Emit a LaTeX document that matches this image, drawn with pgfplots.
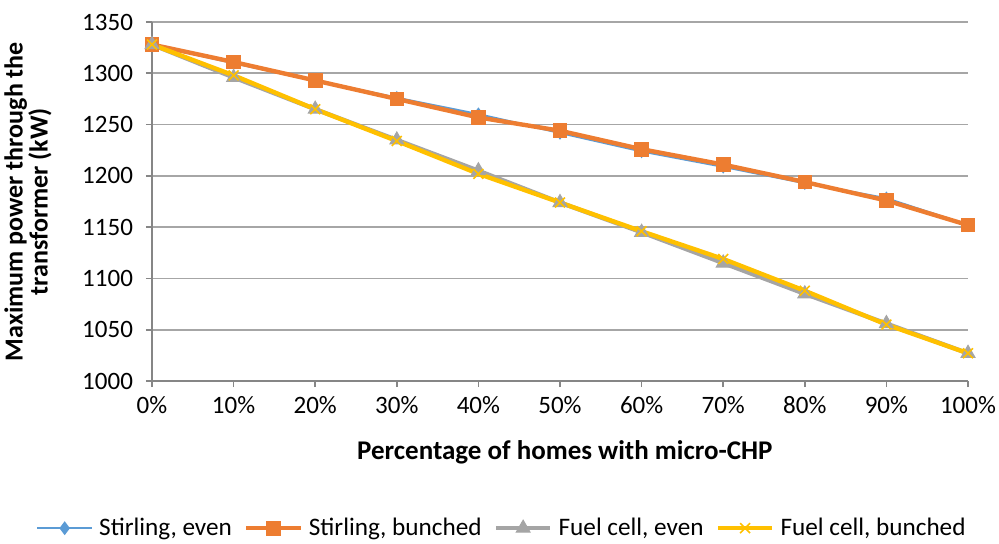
\documentclass[border=0pt]{standalone}
\usepackage{pgfplots}
\pgfplotsset{compat=1.18}
\usepackage{fontspec}
\setmainfont{Carlito}

\definecolor{cBlue}{HTML}{5B9BD5}
\definecolor{cOrange}{HTML}{ED7D31}
\definecolor{cGray}{HTML}{A5A5A5}
\definecolor{cYellow}{HTML}{FFC000}
\definecolor{gridGray}{HTML}{A6A6A6}
\definecolor{axisGray}{HTML}{868686}

\begin{document}
\begin{tikzpicture}
\useasboundingbox (-76pt,-81pt) rectangle (423.5pt,190.5pt);
\begin{axis}[
  at={(0,0)}, anchor=south west,
  width=408pt, height=179.5pt,
  scale only axis,
  xmin=0, xmax=100, ymin=1000, ymax=1350,
  xtick={0,10,...,100},
  xticklabels={0\%,10\%,20\%,30\%,40\%,50\%,60\%,70\%,80\%,90\%,100\%},
  ytick={1000,1050,...,1350},
  /pgf/number format/assume math mode=true,
  /pgf/number format/set thousands separator={},
  axis lines*=left,
  axis line style={axisGray, line width=0.8pt},
  tick style={axisGray, line width=0.8pt},
  tick align=outside,
  major tick length=3pt,
  ymajorgrids,
  grid style={gridGray, line width=0.8pt},
  tick label style={font=\fontsize{12.5}{14}\selectfont, black},
  yticklabel style={xshift=-3pt},
  xticklabel style={yshift=-1pt},
  xlabel={Percentage of homes with micro-CHP},
  ylabel={Maximum power through the\\transformer (kW)},
  xlabel style={font=\fontsize{13.5}{16}\bfseries, at={(axis description cs:0.506,-0.2)}, anchor=center},
  ylabel style={font=\fontsize{13}{12.5}\bfseries, align=center, at={(axis description cs:-0.152,0.5)}, anchor=center, rotate=0},
  legend style={font=\fontsize{12.6}{14}\selectfont, draw=none, fill=none,
    at={(axis description cs:0.43,-0.41)}, anchor=center,
    legend columns=4, column sep=4pt,
    /tikz/every odd column/.append style={column sep=1pt}},
  legend image code/.code={
    \draw[#1, mark repeat=2, mark phase=2] plot coordinates {(0cm,0cm) (0.48cm,0cm) (0.96cm,0cm)};
  },
  clip=false,
]
\addplot[cBlue, line width=1.2pt, mark=diamond*, mark size=2.5pt, mark options={fill=cBlue, solid}]
  coordinates {(0,1328) (10,1310) (20,1293) (30,1276) (40,1260) (50,1242) (60,1224) (70,1209) (80,1193) (90,1178) (100,1152)};
\addlegendentry{Stirling, even}
\addplot[cOrange, line width=2.2pt, mark=square*, mark size=3.4pt, mark options={fill=cOrange, line width=0.5pt}]
  coordinates {(0,1328) (10,1311) (20,1293) (30,1275) (40,1257) (50,1244) (60,1226) (70,1211) (80,1194) (90,1176) (100,1152)};
\addlegendentry{Stirling, bunched}
\addplot[cGray, line width=2.2pt, mark=triangle*, mark size=4pt, mark options={fill=cGray, line width=0.5pt}]
  coordinates {(0,1328) (10,1296) (20,1265) (30,1235) (40,1205) (50,1174) (60,1145) (70,1115) (80,1085) (90,1056) (100,1027)};
\addlegendentry{Fuel cell, even}
\addplot[cYellow, line width=2.2pt, mark=x, mark size=3.5pt, mark options={line width=0.8pt}]
  coordinates {(0,1328) (10,1298) (20,1265) (30,1234) (40,1202) (50,1174) (60,1146) (70,1119) (80,1088) (90,1055) (100,1027)};
\addlegendentry{Fuel cell, bunched}
\end{axis}
\end{tikzpicture}
\end{document}
